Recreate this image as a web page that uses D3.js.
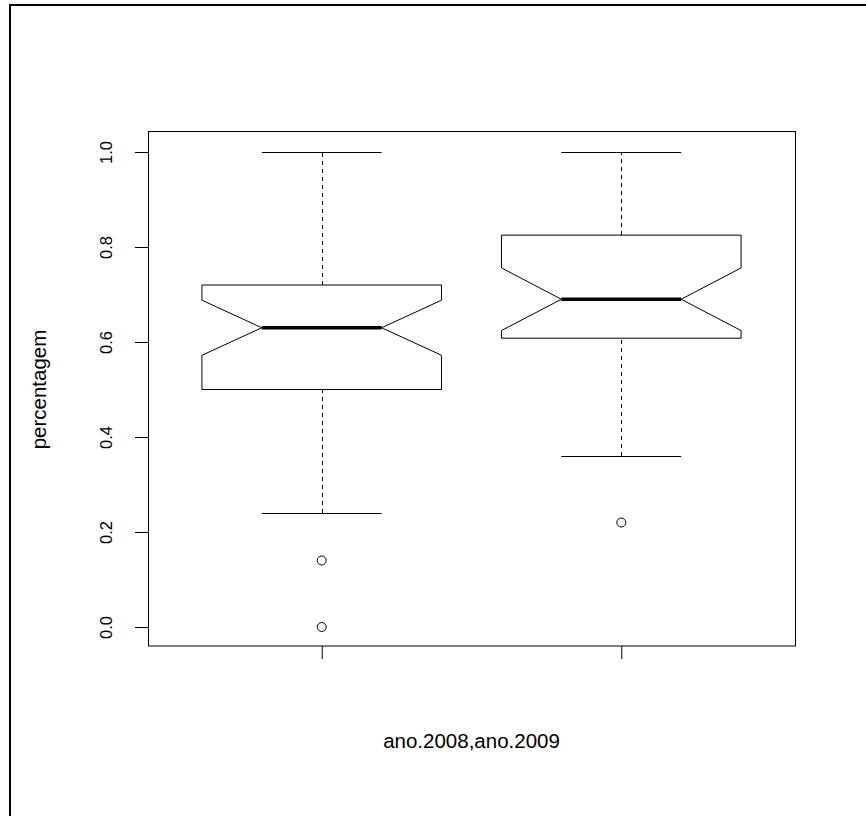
<!DOCTYPE html>
<html>
<head>
<meta charset="utf-8">
<script src="https://cdn.jsdelivr.net/npm/d3@7"></script>
<style>
  body { margin: 0; background: #fff; }
  svg { display: block; }
  text { font-family: "Liberation Sans", Arial, sans-serif; fill: #000; }
</style>
</head>
<body>
<div id="chart"></div>
<script>
//DATA
const groups = ["ano.2008", "ano.2009"];
const positions = [1, 2];
const whiskerLow = [0.24, 0.36];
const q1 = [0.50, 0.608];
const median = [0.63, 0.69];
const q3 = [0.72, 0.825];
const whiskerHigh = [1.0, 1.0];
const notchLow = [0.572, 0.624];
const notchHigh = [0.688, 0.756];
const outliers = [[0.14, 0.0], [0.22]];
const yTicks = [0, 0.2, 0.4, 0.6, 0.8, 1.0];

//CONSTANTS AND GLOBALS
const width = 866, height = 816;
const margin = {top: 133, right: 71, bottom: 170, left: 148};
const boxWex = 0.8;

const svg = d3.select("#chart")
  .append("svg")
  .attr("width", width)
  .attr("height", height);

//FRAME (top and left edge of the image)
svg.append("line")
  .attr("x1", 9).attr("x2", width).attr("y1", 5).attr("y2", 5)
  .attr("stroke", "#000").attr("stroke-width", 2);
svg.append("line")
  .attr("x1", 10).attr("x2", 10).attr("y1", 4).attr("y2", height)
  .attr("stroke", "#000").attr("stroke-width", 2);

//SCALES
const x = d3.scaleLinear()
  .domain([0.42, 2.58])
  .range([margin.left, width - margin.right]);

const y = d3.scaleLinear()
  .domain([-0.04, 1.04])
  .range([height - margin.bottom, margin.top]);

//BOXES
const stats = groups.map((g, i) => ({
  name: g, pos: positions[i],
  lo: whiskerLow[i], q1: q1[i], med: median[i], q3: q3[i], hi: whiskerHigh[i],
  nlo: notchLow[i], nhi: notchHigh[i], out: outliers[i]
}));

const g = svg.append("g");

stats.forEach(d => {
  const half = boxWex / 2;
  const l = x(d.pos - half), r = x(d.pos + half);
  const nl = x(d.pos - half / 2), nr = x(d.pos + half / 2);
  const cx = Math.round(x(d.pos)) + 0.5;

  // whiskers
  g.append("line")
    .attr("x1", cx).attr("x2", cx)
    .attr("y1", y(d.lo)).attr("y2", y(d.q1))
    .attr("stroke", "#000").attr("stroke-dasharray", "4,4");
  g.append("line")
    .attr("x1", cx).attr("x2", cx)
    .attr("y1", y(d.q3)).attr("y2", y(d.hi))
    .attr("stroke", "#000").attr("stroke-dasharray", "4,4");

  // staples
  [d.lo, d.hi].forEach(v => {
    g.append("line")
      .attr("x1", nl).attr("x2", nr)
      .attr("y1", Math.round(y(v)) + 0.5).attr("y2", Math.round(y(v)) + 0.5)
      .attr("stroke", "#000");
  });

  // notched box
  const pts = [
    [l, y(d.q1)], [l, y(d.nlo)], [nl, y(d.med)], [l, y(d.nhi)], [l, y(d.q3)],
    [r, y(d.q3)], [r, y(d.nhi)], [nr, y(d.med)], [r, y(d.nlo)], [r, y(d.q1)]
  ];
  g.append("path")
    .attr("d", d3.line()(pts) + "Z")
    .attr("fill", "#fff")
    .attr("stroke", "#000")
    .attr("stroke-width", 1);

  // median
  g.append("line")
    .attr("x1", nl).attr("x2", nr)
    .attr("y1", y(d.med)).attr("y2", y(d.med))
    .attr("stroke", "#000").attr("stroke-width", 3.5);

  // outliers
  g.selectAll(null)
    .data(d.out)
    .join("circle")
    .attr("cx", x(d.pos))
    .attr("cy", v => y(v))
    .attr("r", 4.5)
    .attr("fill", "none")
    .attr("stroke", "#000");
});

//AXES
const yAxis = svg.append("g")
  .attr("transform", `translate(${margin.left},0)`)
  .call(d3.axisLeft(y).tickValues(yTicks).tickFormat(d3.format(".1f")).tickSize(13));
yAxis.select(".domain").remove();
yAxis.selectAll("line").attr("stroke", "#000");
yAxis.selectAll("text")
  .attr("x", null).attr("dy", null)
  .attr("transform", "translate(-36,0) rotate(-90)")
  .attr("text-anchor", "middle")
  .style("font-size", "16.5px")
  .style("font-family", "Liberation Sans, Arial, sans-serif");

const xAxis = svg.append("g")
  .attr("transform", `translate(0,${height - margin.bottom})`)
  .call(d3.axisBottom(x).tickValues(positions).tickFormat("").tickSize(13));
xAxis.select(".domain").remove();
xAxis.selectAll("line").attr("stroke", "#000");

//PLOT FRAME
svg.append("rect")
  .attr("x", margin.left + 0.5)
  .attr("y", margin.top - 1.5)
  .attr("width", width - margin.left - margin.right)
  .attr("height", height - margin.top - margin.bottom + 1.5)
  .attr("fill", "none")
  .attr("stroke", "#000");

//LABELS
svg.append("text")
  .attr("x", (margin.left + width - margin.right) / 2)
  .attr("y", 748)
  .attr("text-anchor", "middle")
  .attr("font-size", "20.5px")
  .text(groups.join(","));

svg.append("text")
  .attr("transform", `translate(46,${(margin.top + height - margin.bottom) / 2}) rotate(-90)`)
  .attr("text-anchor", "middle")
  .attr("font-size", "20.5px")
  .text("percentagem");
</script>
</body>
</html>
